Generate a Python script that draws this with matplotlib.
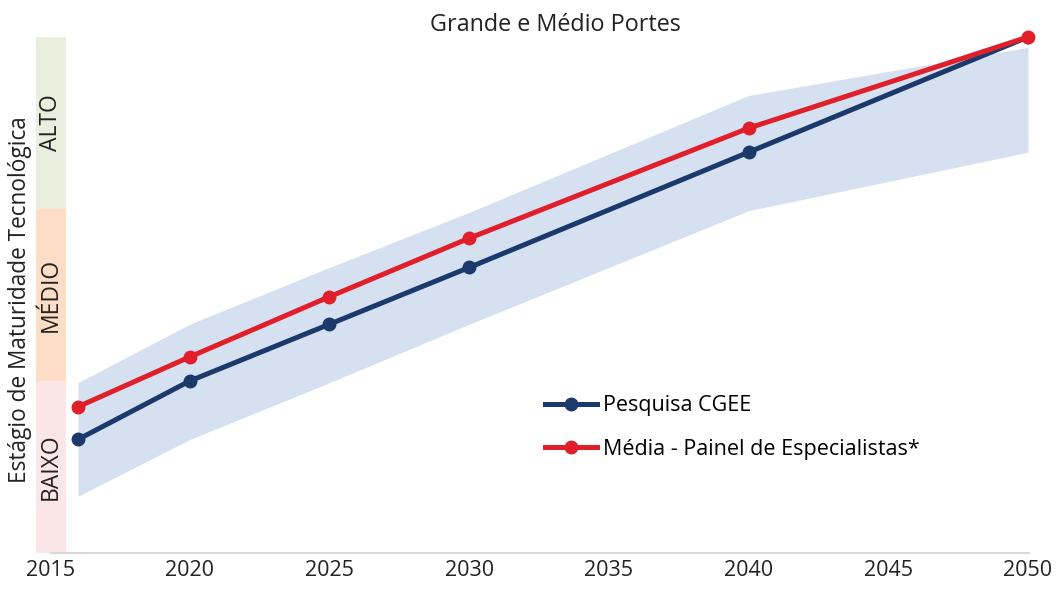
import matplotlib
matplotlib.use("Agg")
import matplotlib.pyplot as plt
import matplotlib.transforms as mtransforms

plt.rcParams['font.family'] = ['Open Sans', 'DejaVu Sans']

years = [2016, 2020, 2025, 2030, 2040, 2050]
cgee = [0.66, 1.0, 1.33, 1.66, 2.33, 3.0]
painel = [0.85, 1.14, 1.49, 1.83, 2.47, 3.0]
band_upper = [0.99, 1.33, 1.66, 1.98, 2.66, 2.94]
band_lower = [0.33, 0.66, 0.99, 1.33, 1.99, 2.33]
xticks = [2015, 2020, 2025, 2030, 2035, 2040, 2045, 2050]
levels = ["BAIXO", "MÉDIO", "ALTO"]
level_colors = ["#FBE6E7", "#FDDDC5", "#E9EFDC"]

fig = plt.figure(figsize=(10.56, 5.89), dpi=100)
ax = fig.add_axes([50/1056, 1-553/589, 978/1056, (553-37)/589])
ax.set_xlim(2015, 2050)
ax.set_ylim(0, 3)

ax.fill_between(years, band_lower, band_upper, color="#D5E0F0", lw=0, zorder=1)
ax.plot(years, cgee, color="#1B3A6B", lw=3.6, marker="o", ms=9, label="Pesquisa CGEE", zorder=3)
ax.plot(years, painel, color="#E01F2B", lw=3.6, marker="o", ms=9,
        label="Média - Painel de Especialistas*", zorder=4, clip_on=False)

trans = mtransforms.blended_transform_factory(ax.transAxes, ax.transData)
x0 = (36-50)/978
w = 30/978
for i, (lab, col) in enumerate(zip(levels, level_colors)):
    ax.add_patch(plt.Rectangle((x0, i), w, 1, transform=trans, color=col,
                               lw=0, clip_on=False, zorder=0))
    ax.text(x0 + w/2, i + 0.5, lab, transform=trans, rotation=90, ha="center",
            va="center", fontsize=16.5, color="#222222")

for s in ["top", "right", "left"]:
    ax.spines[s].set_visible(False)
ax.spines["bottom"].set_color("#D9D9D9")
ax.spines["bottom"].set_linewidth(1.5)
ax.spines["bottom"].set_bounds(2015.05, 2050.05)
ax.set_yticks([])
ax.set_xticks(xticks)
ax.set_xticklabels([str(t) for t in xticks], fontsize=15.5, color="#222222")
ax.tick_params(axis="x", length=0, pad=5)

fig.text(20/1056, 1-300/589, "Estágio de Maturidade Tecnológica", rotation=90,
         ha="center", va="center", fontsize=16.3, color="#222222")
fig.text(555/1056, 1-25/589, "Grande e Médio Portes", ha="center", va="center",
         fontsize=16.8, color="#222222")

ax.legend(loc="upper left", bbox_to_anchor=(530/1056, 1-380/589),
          bbox_transform=fig.transFigure, frameon=False, fontsize=15.5,
          handlelength=2.4, labelspacing=1.05, handletextpad=0.3, borderpad=0.2)

fig.savefig("out.png", dpi=100)
